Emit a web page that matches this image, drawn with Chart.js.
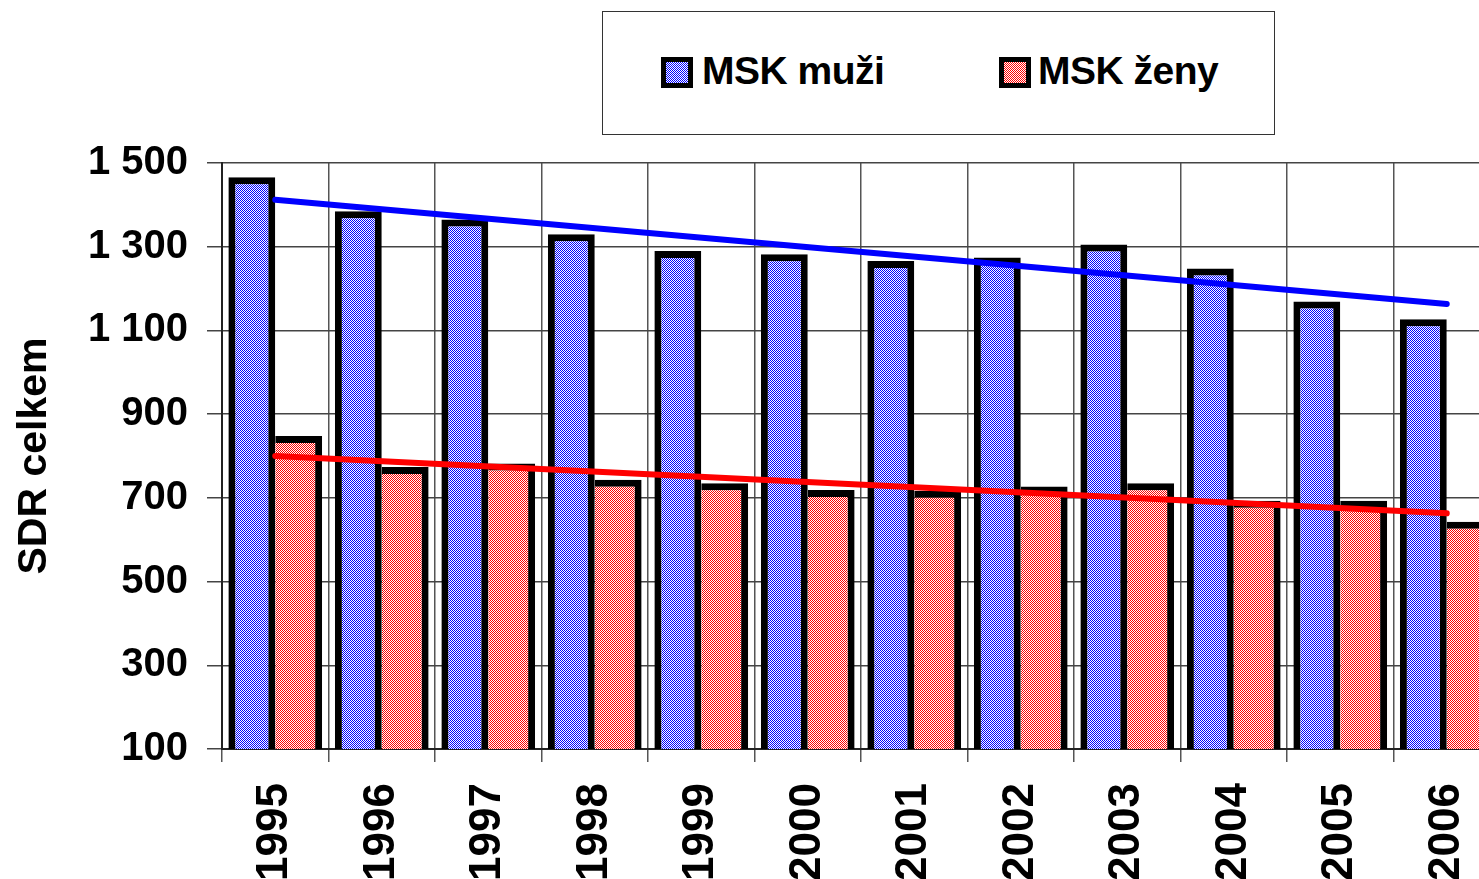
<!DOCTYPE html>
<html>
<head>
<meta charset="utf-8">
<script src="https://cdn.jsdelivr.net/npm/chart.js@4/dist/chart.umd.min.js"></script>
<style>
  html, body { margin: 0; padding: 0; background: #fff; overflow: hidden; }
  #wrap { position: relative; width: 1500px; height: 879px; }
  #legend {
    position: absolute; left: 602px; top: 11px; width: 671px; height: 122px;
    border: 1px solid #333; background: #fff;
    font-family: "Liberation Sans", Arial, sans-serif; font-weight: bold; font-size: 39px; color: #000;
  }
  .sw { position: absolute; top: 45px; width: 22px; height: 21px; border: 5px solid #000; image-rendering: pixelated; }
  .lt { position: absolute; top: 39px; line-height: 39px; white-space: nowrap; letter-spacing: -0.5px; }
</style>
</head>
<body>
<div id="wrap">
  <canvas id="chart"></canvas>
  <div id="legend">
    <div class="sw" id="sw1" style="left:58px"></div><span class="lt" style="left:99px">MSK muži</span>
    <div class="sw" id="sw2" style="left:396px"></div><span class="lt" style="left:435px">MSK ženy</span>
  </div>
</div>
<script>
// data
const years = ['1995', '1996', '1997', '1998', '1999', '2000', '2001', '2002', '2003', '2004', '2005', '2006'];
const muzi = [1466, 1385, 1365, 1330, 1290, 1282, 1266, 1274, 1305, 1248, 1169, 1127];
const zeny = [848, 774, 782, 743, 735, 719, 717, 727, 735, 693, 693, 643];
// linear trend lines: only the two end points are given
const trendMuzi = [1412, null, null, null, null, null, null, null, null, null, null, 1163];
const trendZeny = [800, null, null, null, null, null, null, null, null, null, null, 663];
const yTicks = [100, 300, 500, 700, 900, 1100, 1300, 1500];

const FONT = '"Liberation Sans", Arial, sans-serif';

// dithered fill like the old excel pattern
function makeDither(color) {
    const c = document.createElement('canvas');
    c.width = 2; c.height = 2;
    const g = c.getContext('2d');
    g.fillStyle = '#ffffff';
    g.fillRect(0, 0, 2, 2);
    g.fillStyle = color;
    g.fillRect(0, 0, 1, 1);
    g.fillRect(1, 1, 1, 1);
    return c;
}

const blueTile = makeDither('#0000ff');
const redTile = makeDither('#ff0000');
document.getElementById('sw1').style.background = `url(${blueTile.toDataURL()})`;
document.getElementById('sw2').style.background = `url(${redTile.toDataURL()})`;

const canvas = document.getElementById('chart');
canvas.width = 1500;
canvas.height = 879;
const ctx = canvas.getContext('2d');

function spaced(v) {
    return String(v).replace(/\B(?=(\d{3})+(?!\d))/g, ' ');
}

new Chart(ctx, {
    type: 'bar',
    data: {
        labels: years,
        datasets: [
            {
                type: 'line', label: 'trend muži', data: trendMuzi, spanGaps: true,
                borderColor: '#0000ff', borderWidth: 6, borderCapStyle: 'round',
                pointRadius: 0, order: 0
            },
            {
                type: 'line', label: 'trend ženy', data: trendZeny, spanGaps: true,
                borderColor: '#ff0000', borderWidth: 6, borderCapStyle: 'round',
                pointRadius: 0, order: 0
            },
            {
                label: 'MSK muži', data: muzi,
                backgroundColor: ctx.createPattern(blueTile, 'repeat'),
                borderColor: '#000', borderSkipped: false,
                borderWidth: { top: 7, left: 7, right: 7, bottom: 6 },
                barPercentage: 1.0, categoryPercentage: 0.88, order: 1
            },
            {
                label: 'MSK ženy', data: zeny,
                backgroundColor: ctx.createPattern(redTile, 'repeat'),
                borderColor: '#000', borderSkipped: false,
                borderWidth: { top: 7, left: 0, right: 7, bottom: 6 },
                barPercentage: 1.0, categoryPercentage: 0.88, order: 1
            }
        ]
    },
    options: {
        responsive: false,
        animation: false,
        devicePixelRatio: 1,
        layout: { padding: { top: 163, left: 0, right: 0, bottom: 0 } },
        plugins: {
            legend: { display: false },
            tooltip: { enabled: false }
        },
        scales: {
            x: {
                grid: { color: '#555', lineWidth: 1.5, tickLength: 13, offset: true },
                border: { color: '#222', width: 2 },
                ticks: {
                    color: '#000', autoSkip: false, minRotation: 90, maxRotation: 90, padding: 21,
                    font: { family: FONT, size: 44, weight: 'bold' }
                },
                afterFit: s => { s.height = 130; s.paddingLeft = 0; s.paddingRight = 0; }
            },
            y: {
                min: 100, max: 1500,
                afterBuildTicks: s => { s.ticks = yTicks.map(v => ({ value: v })); },
                grid: { color: '#444', lineWidth: 1.5, tickLength: 15 },
                border: { color: '#222', width: 2 },
                ticks: {
                    color: '#000', padding: 19,
                    font: { family: FONT, size: 40, weight: 'bold' },
                    callback: v => spaced(v)
                },
                title: {
                    display: true, text: 'SDR celkem', color: '#000',
                    font: { family: FONT, size: 41, weight: 'bold' },
                    padding: { top: 10, bottom: 0 }
                },
                afterFit: s => { s.width = 222; s.paddingTop = 0; s.paddingBottom = 0; }
            }
        }
    }
});
</script>
</body>
</html>
